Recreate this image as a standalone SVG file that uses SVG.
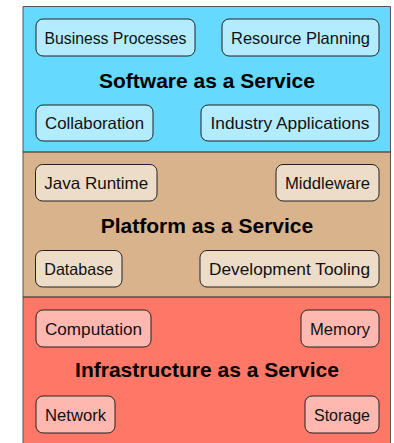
<svg xmlns="http://www.w3.org/2000/svg" width="394" height="443" viewBox="0 0 394 443">
<style>
.title{font-family:"Liberation Sans",Arial,sans-serif;font-weight:bold;font-size:21px;fill:#000;text-anchor:middle}
.lbl{font-family:"Liberation Sans",Arial,sans-serif;font-size:16.5px;fill:#111;text-anchor:middle}
.node rect{stroke:#222;stroke-width:1}
.saas rect{fill:#B3ECFF}
.paas rect{fill:#EDDCC8}
.iaas rect{fill:#FFB8B0}
.div{stroke:#222;stroke-width:1.2}
</style>
<rect width="394" height="443" fill="#fff"/>
<g id="layer-saas">
<rect x="23" y="6.5" width="367.5" height="145.5" fill="#66D9FF"/>
<text class="title" x="207" y="88">Software as a Service</text>
</g>
<g id="layer-paas">
<rect x="23" y="152" width="367.5" height="145" fill="#D9B38C"/>
<text class="title" x="207" y="233">Platform as a Service</text>
</g>
<g id="layer-iaas">
<rect x="23" y="297" width="367.5" height="150" fill="#FF7766"/>
<text class="title" x="207" y="377">Infrastructure as a Service</text>
</g>
<g id="frame" fill="none">
<path d="M23,447 V6.5 H390.5 V447" stroke="#555" stroke-width="1"/>
<line class="div" x1="23" y1="152" x2="390.5" y2="152"/>
<line class="div" x1="23" y1="297" x2="390.5" y2="297"/>
</g>
<g id="business-processes" class="node saas"><rect x="36" y="19" width="159" height="37" rx="7"/><text class="lbl" x="115.5" y="43.5" textLength="142" lengthAdjust="spacingAndGlyphs">Business Processes</text></g>
<g id="resource-planning" class="node saas"><rect x="222" y="19" width="157" height="37" rx="7"/><text class="lbl" x="300.5" y="43.5" textLength="139" lengthAdjust="spacingAndGlyphs">Resource Planning</text></g>
<g id="collaboration" class="node saas"><rect x="36" y="105" width="117" height="36" rx="7"/><text class="lbl" x="94.5" y="129" textLength="99" lengthAdjust="spacingAndGlyphs">Collaboration</text></g>
<g id="industry-applications" class="node saas"><rect x="201" y="105" width="178" height="36" rx="7"/><text class="lbl" x="290" y="129" textLength="159" lengthAdjust="spacingAndGlyphs">Industry Applications</text></g>
<g id="java-runtime" class="node paas"><rect x="35.5" y="164.5" width="121.5" height="36.5" rx="7"/><text class="lbl" x="96.25" y="189" textLength="104" lengthAdjust="spacingAndGlyphs">Java Runtime</text></g>
<g id="middleware" class="node paas"><rect x="276" y="164.5" width="103" height="36.5" rx="7"/><text class="lbl" x="327.5" y="189" textLength="85" lengthAdjust="spacingAndGlyphs">Middleware</text></g>
<g id="database" class="node paas"><rect x="35.5" y="250.5" width="86.5" height="36.5" rx="7"/><text class="lbl" x="78.75" y="275" textLength="69" lengthAdjust="spacingAndGlyphs">Database</text></g>
<g id="development-tooling" class="node paas"><rect x="200" y="250.5" width="179" height="36.5" rx="7"/><text class="lbl" x="289.5" y="275" textLength="161" lengthAdjust="spacingAndGlyphs">Development Tooling</text></g>
<g id="computation" class="node iaas"><rect x="36" y="310" width="115" height="37" rx="7"/><text class="lbl" x="93.5" y="334.5" textLength="97" lengthAdjust="spacingAndGlyphs">Computation</text></g>
<g id="memory" class="node iaas"><rect x="301" y="310" width="78" height="37" rx="7"/><text class="lbl" x="340" y="334.5" textLength="60" lengthAdjust="spacingAndGlyphs">Memory</text></g>
<g id="network" class="node iaas"><rect x="36" y="396" width="79" height="37" rx="7"/><text class="lbl" x="75.5" y="420.5" textLength="61" lengthAdjust="spacingAndGlyphs">Network</text></g>
<g id="storage" class="node iaas"><rect x="305" y="396" width="74" height="37" rx="7"/><text class="lbl" x="342" y="420.5" textLength="56" lengthAdjust="spacingAndGlyphs">Storage</text></g>
</svg>
